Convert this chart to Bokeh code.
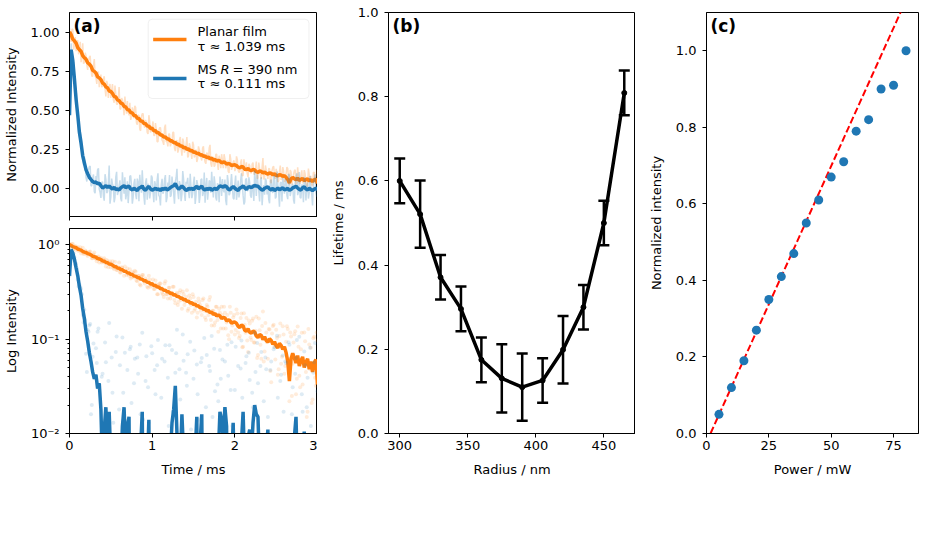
import numpy as np
from bokeh.plotting import figure
from bokeh.layouts import row, column
from bokeh.models import (Range1d, FixedTicker, PrintfTickFormatter, BoxAnnotation,
                          Label, Whisker, TeeHead, ColumnDataSource)
from bokeh.embed import file_html
from bokeh.resources import INLINE

# ---------------- data ----------------
# smoothed traces and raw samples on the main time grid (0.00 ... 3.00 ms)
time_ms = np.linspace(0.0, 3.0, 151)
# raw samples in between (0.01 ... 2.99 ms)
time_mid_ms = np.linspace(0.01, 2.99, 150)

planar_smooth = [
    1.005, 0.985, 0.958, 0.946, 0.932, 0.903, 0.889, 0.879, 0.852, 0.838,
    0.829, 0.806, 0.797, 0.784, 0.758, 0.751, 0.740, 0.716, 0.709, 0.698,
    0.676, 0.669, 0.651, 0.646, 0.625, 0.622, 0.610, 0.590, 0.587, 0.568,
    0.564, 0.548, 0.544, 0.526, 0.523, 0.506, 0.503, 0.487, 0.485, 0.468,
    0.466, 0.451, 0.449, 0.433, 0.432, 0.417, 0.416, 0.401, 0.400, 0.385,
    0.386, 0.371, 0.371, 0.357, 0.357, 0.343, 0.343, 0.330, 0.331, 0.318,
    0.318, 0.305, 0.306, 0.294, 0.295, 0.283, 0.284, 0.272, 0.273, 0.262,
    0.263, 0.252, 0.253, 0.242, 0.244, 0.233, 0.235, 0.224, 0.226, 0.215,
    0.217, 0.207, 0.209, 0.198, 0.202, 0.191, 0.194, 0.183, 0.187, 0.176,
    0.181, 0.176, 0.165, 0.170, 0.168, 0.156, 0.160, 0.158, 0.147, 0.151,
    0.152, 0.147, 0.137, 0.133, 0.141, 0.138, 0.124, 0.121, 0.129, 0.118,
    0.116, 0.122, 0.119, 0.108, 0.104, 0.112, 0.110, 0.099, 0.106, 0.097,
    0.093, 0.101, 0.097, 0.088, 0.094, 0.085, 0.081, 0.090, 0.086, 0.078,
    0.083, 0.072, 0.058, 0.036, 0.062, 0.071, 0.063, 0.056, 0.067, 0.052,
    0.059, 0.065, 0.050, 0.057, 0.062, 0.048, 0.058, 0.045, 0.056, 0.061,
    0.033]

planar_raw = [
    1.03, 0.94, 1.02, 0.92, 0.88, 0.95, 0.90, 0.81, 0.93, 0.81,
    0.85, 0.76, 0.84, 0.77, 0.72, 0.83, 0.71, 0.74, 0.65, 0.73,
    0.66, 0.72, 0.59, 0.67, 0.64, 0.58, 0.67, 0.55, 0.60, 0.54,
    0.65, 0.51, 0.57, 0.47, 0.53, 0.56, 0.47, 0.44, 0.52, 0.45,
    0.52, 0.41, 0.47, 0.37, 0.48, 0.41, 0.44, 0.36, 0.47, 0.36,
    0.39, 0.34, 0.42, 0.30, 0.37, 0.39, 0.31, 0.28, 0.41, 0.30,
    0.35, 0.27, 0.31, 0.36, 0.24, 0.31, 0.25, 0.33, 0.21, 0.30,
    0.25, 0.33, 0.21, 0.27, 0.19, 0.28, 0.21, 0.17, 0.27, 0.23,
    0.18, 0.27, 0.17, 0.23, 0.18, 0.28, 0.14, 0.20, 0.15, 0.22,
    0.12, 0.19, 0.22, 0.13, 0.19, 0.15, 0.11, 0.22, 0.12, 0.17,
    0.112, 0.206, 0.118, 0.108, 0.187, 0.083, 0.142, 0.168, 0.073, 0.147,
    0.098, 0.166, 0.092, 0.173, 0.068, 0.124, 0.062, 0.196, 0.074, 0.118,
    0.062, 0.127, 0.035, 0.138, 0.083, 0.126, 0.042, 0.108, 0.055, 0.137,
    0.043, 0.094, 0.128, 0.022, 0.107, 0.055, 0.113, 0.026, 0.136, 0.041,
    0.078, 0.033, 0.118, 0.045, 0.017, 0.088, 0.081, 0.023, 0.106, 0.032,
    0.097]

planar_raw_mid = [
    0.97, 1.02, 0.89, 0.97, 0.93, 0.86, 0.94, 0.85, 0.80, 0.87,
    0.79, 0.82, 0.85, 0.72, 0.79, 0.72, 0.67, 0.75, 0.71, 0.65,
    0.70, 0.64, 0.69, 0.58, 0.67, 0.63, 0.57, 0.66, 0.54, 0.58,
    0.51, 0.58, 0.53, 0.59, 0.48, 0.49, 0.55, 0.46, 0.50, 0.53,
    0.42, 0.47, 0.38, 0.46, 0.48, 0.39, 0.42, 0.35, 0.43, 0.37,
    0.43, 0.34, 0.38, 0.30, 0.39, 0.35, 0.30, 0.39, 0.30, 0.27,
    0.35, 0.29, 0.36, 0.26, 0.30, 0.23, 0.31, 0.26, 0.32, 0.23,
    0.28, 0.20, 0.29, 0.23, 0.30, 0.20, 0.25, 0.19, 0.25, 0.20,
    0.26, 0.20, 0.16, 0.22, 0.26, 0.16, 0.20, 0.14, 0.22, 0.16,
    0.21, 0.13, 0.18, 0.22, 0.13, 0.18, 0.10, 0.19, 0.14, 0.18,
    0.125, 0.187, 0.103, 0.168, 0.082, 0.188, 0.117, 0.097, 0.158, 0.104,
    0.157, 0.092, 0.123, 0.063, 0.166, 0.087, 0.138, 0.058, 0.148, 0.093,
    0.128, 0.046, 0.115, 0.142, 0.061, 0.103, 0.048, 0.147, 0.065, 0.112,
    0.052, 0.137, 0.062, 0.118, 0.025, 0.092, 0.121, 0.038, 0.083, 0.031,
    0.117, 0.052, 0.095, 0.015, 0.128, 0.048, 0.021, 0.102, 0.039, 0.118]

ms_smooth = [
    0.47, 0.89, 0.82, 0.70, 0.57, 0.47, 0.36, 0.29, 0.21, 0.165,
    0.12, 0.095, 0.072, 0.058, 0.045, 0.038, 0.042, 0.030, 0.034, 0.018,
    0.004, 0.011, 0.019, 0.007, 0.017, 0.005, -0.004, 0.009, -0.006, -0.002,
    -0.009, 0.004, 0.012, 0.019, 0.006, 0.012, 0.015, -0.003, -0.008, 0.002,
    -0.006, -0.012, 0.003, 0.007, 0.017, -0.004, -0.010, 0.004, 0.014, -0.002,
    -0.011, -0.005, 0.003, -0.008, -0.002, -0.013, 0.001, -0.006, 0.004, -0.009,
    -0.003, 0.006, 0.013, 0.018, 0.032, 0.010, -0.004, 0.005, 0.016, 0.006,
    -0.007, -0.012, 0.002, -0.005, 0.003, -0.008, 0.006, 0.015, -0.002, 0.008,
    0.016, -0.003, -0.010, 0.001, -0.006, 0.004, -0.011, -0.004, 0.002, -0.007,
    0.006, 0.017, 0.014, 0.009, 0.019, 0.012, -0.004, -0.009, 0.005, 0.013,
    0.002, -0.006, -0.012, 0.003, 0.008, 0.017, 0.004, -0.005, 0.009, 0.011,
    0.006, 0.013, 0.020, 0.016, 0.015, 0.004, -0.006, -0.010, 0.002, 0.007,
    0.011, -0.003, -0.008, 0.001, -0.012, -0.005, 0.003, -0.007, -0.002, 0.005,
    -0.009, -0.004, 0.002, -0.011, -0.006, 0.004, 0.009, 0.015, 0.003, -0.005,
    -0.010, 0.006, 0.0105, -0.003, -0.008, 0.002, -0.006, -0.013, -0.004, 0.003,
    -0.007]

ms_raw = [
    0.47, 0.93, 0.77, 0.73, 0.63, 0.43, 0.38, 0.34, 0.18, 0.205,
    0.07, 0.125, 0.14, 0.016, 0.065, -0.02, 0.08, 0.12, -0.005, -0.06,
    0.043, -0.078, 0.057, -0.021, 0.148, -0.052, 0.027, -0.088, 0.073, -0.041,
    0.018, -0.062, 0.104, -0.033, -0.069, 0.047, -0.012, 0.083, -0.097, 0.034,
    -0.038, 0.064, -0.081, 0.016, 0.117, -0.048, 0.036, -0.072, 0.013, -0.029,
    0.071, -0.087, 0.026, 0.053, -0.043, -0.108, 0.062, -0.018, 0.086, -0.058,
    0.012, -0.053, 0.077, -0.031, 0.044, 0.126, -0.068, 0.023, -0.037, 0.059,
    -0.079, 0.032, -0.024, 0.094, -0.061, 0.038, -0.098, 0.054, 0.014, -0.042,
    0.063, -0.027, -0.091, 0.068, -0.019, 0.046, 0.108, -0.057, 0.028, -0.076,
    0.022, 0.077, -0.048, -0.011, 0.058, -0.106, 0.041, -0.032, 0.093, -0.061,
    0.029, -0.072, 0.052, -0.017, 0.097, -0.044, -0.086, 0.066, -0.013, 0.037,
    -0.058, 0.019, 0.116, -0.047, 0.034, -0.083, 0.073, -0.022, -0.039, 0.048,
    0.015, -0.094, 0.058, -0.028, 0.082, -0.053, 0.024, -0.116, 0.042, 0.067,
    -0.033, 0.056, -0.068, 0.087, -0.016, 0.031, -0.097, 0.063, -0.042, 0.106,
    -0.061, 0.017, 0.074, -0.077, 0.039, -0.026, 0.012, -0.108, 0.057, -0.023,
    0.028]

ms_raw_mid = [
    0.73, 0.82, 0.81, 0.62, 0.56, 0.36, 0.36, 0.30, 0.15, 0.16,
    0.045, 0.12, 0.145, 0.02, 0.09, -0.03, 0.056, 0.13, -0.024, 0.04,
    -0.047, 0.092, -0.028, 0.036, -0.097, 0.064, 0.013, -0.058, 0.107, -0.019,
    0.053, -0.082, 0.027, 0.072, -0.038, -0.093, 0.078, 0.021, -0.054, 0.062,
    -0.068, 0.043, 0.088, -0.027, 0.014, -0.103, 0.066, 0.031, -0.063, 0.084,
    -0.018, 0.047, -0.076, 0.098, -0.052, 0.024, -0.033, 0.058, -0.087, 0.039,
    0.086, -0.042, 0.017, -0.097, 0.071, -0.023, 0.048, -0.081, 0.112, -0.029,
    0.044, 0.069, -0.062, 0.011, -0.034, 0.076, -0.047, 0.026, -0.092, 0.057,
    -0.048, 0.103, 0.019, -0.071, 0.052, -0.027, 0.015, 0.079, -0.058, 0.033,
    -0.088, 0.038, 0.061, -0.024, -0.077, 0.087, -0.043, 0.029, 0.012, -0.068,
    0.083, -0.031, -0.057, 0.049, 0.024, -0.102, 0.056, -0.014, 0.072, -0.046,
    0.027, -0.079, 0.045, 0.091, -0.018, 0.052, -0.107, 0.022, 0.064, -0.038,
    -0.071, 0.047, -0.013, 0.078, -0.063, 0.109, -0.027, 0.036, -0.082, 0.017,
    0.058, -0.044, 0.093, -0.048, 0.016, -0.072, 0.043, 0.098, -0.021, -0.057,
    0.026, -0.087, 0.053, 0.019, -0.064, 0.081, -0.032, 0.044, 0.091, -0.052]

radius_nm = [300, 315, 330, 345, 360, 375, 390, 405, 420, 435, 450, 465]
lifetime_ms = [0.600, 0.521, 0.371, 0.296, 0.175, 0.131, 0.110, 0.126, 0.199, 0.300, 0.500, 0.809]
lifetime_err = [0.053, 0.080, 0.053, 0.053, 0.053, 0.081, 0.080, 0.053, 0.080, 0.053, 0.053, 0.053]

power_mw = [5, 10, 15, 20, 25, 30, 35, 40, 45, 50, 55, 60, 65, 70, 75, 80]
norm_intensity = [0.05, 0.12, 0.19, 0.27, 0.35, 0.41, 0.47, 0.55, 0.61, 0.67,
                  0.71, 0.79, 0.82, 0.90, 0.91, 1.00]
fit_slope = 0.01444
fit_intercept = -0.0231

# ---------------- styling helpers ----------------
FONT = "DejaVu Sans"
FS = "13px"
ORANGE = "#ff7f0e"
BLUE = "#1f77b4"


def style(p):
    p.outline_line_color = "black"
    p.outline_line_width = 1
    p.outline_line_alpha = 1.0
    p.xgrid.visible = False
    p.ygrid.visible = False
    p.background_fill_color = "white"
    p.border_fill_color = "white"
    for ax in p.axis:
        ax.axis_line_color = "black"
        ax.major_tick_line_color = "black"
        ax.major_tick_out = 4
        ax.major_tick_in = 0
        ax.minor_tick_line_color = None
        ax.major_label_text_font = FONT
        ax.major_label_text_font_size = FS
        ax.major_label_text_color = "black"
        ax.axis_label_text_font = FONT
        ax.axis_label_text_font_size = FS
        ax.axis_label_text_font_style = "normal"
        ax.axis_label_text_color = "black"
    for ax in p.yaxis:
        ax.major_label_standoff = 6
        ax.axis_label_standoff = 9
    for ax in p.xaxis:
        ax.major_label_standoff = 3
        ax.axis_label_standoff = 9


def panel_label(p, text, x, y):
    p.add_layout(Label(x=x, y=y, x_offset=4, y_offset=-3, text=text,
                       text_font=FONT, text_font_size="17px", text_font_style="bold",
                       text_baseline="top", text_align="left", text_color="black"))


t = np.asarray(time_ms)
ps = np.asarray(planar_smooth)
ms = np.asarray(ms_smooth)

# merge both raw sample sets into one time-ordered series
t_raw = np.concatenate([t, np.asarray(time_mid_ms)])
order = np.argsort(t_raw)
t_raw = t_raw[order]
pr = np.concatenate([np.asarray(planar_raw), np.asarray(planar_raw_mid)])[order]
mr = np.concatenate([np.asarray(ms_raw), np.asarray(ms_raw_mid)])[order]

xr_a = Range1d(0, 3)

# ---------------- panel (a) top ----------------
pa1 = figure(frame_width=248, frame_height=204, x_range=xr_a, y_range=Range1d(-0.179, 1.128),
             min_border_left=68, min_border_right=0, min_border_top=12, min_border_bottom=6,
             output_backend="svg", toolbar_location=None)
pa1.line(t_raw, pr, line_color=ORANGE, line_alpha=0.25, line_width=1.5)
pa1.line(t, ps, line_color=ORANGE, line_width=3.5)
pa1.line(t_raw, mr, line_color=BLUE, line_alpha=0.25, line_width=1.5)
pa1.line(t, ms, line_color=BLUE, line_width=3.5)
style(pa1)
pa1.xaxis.ticker = FixedTicker(ticks=[0, 1, 2, 3])
pa1.xaxis.major_label_text_font_size = "0px"
pa1.xaxis.major_label_text_color = None
pa1.xaxis.major_label_standoff = 0
pa1.yaxis.ticker = FixedTicker(ticks=[0.0, 0.25, 0.5, 0.75, 1.0])
pa1.yaxis.formatter = PrintfTickFormatter(format="%.2f")
pa1.yaxis.axis_label = "Normalized Intensity"
panel_label(pa1, "(a)", 0, 1.128)

# legend (drawn as annotations)
pa1.add_layout(BoxAnnotation(left=0.952, right=2.897, top=1.085, bottom=0.577,
                             fill_color="white", fill_alpha=0.8, line_color="#cccccc",
                             line_width=1, border_radius=4))
pa1.add_layout(BoxAnnotation(left=1.012, right=1.415, top=0.966, bottom=0.944,
                             fill_color=ORANGE, fill_alpha=1, line_color=None))
pa1.add_layout(BoxAnnotation(left=1.012, right=1.415, top=0.716, bottom=0.694,
                             fill_color=BLUE, fill_alpha=1, line_color=None))
leg_kw = dict(text_font=FONT, text_font_size=FS, text_baseline="middle",
              text_align="left", text_color="black")
pa1.add_layout(Label(x=1.548, y=1.006, text="Planar film", **leg_kw))
pa1.add_layout(Label(x=1.548, y=0.913, text="τ ≈ 1.039 ms", **leg_kw))
pa1.add_layout(Label(x=1.548, y=0.764, text="MS", **leg_kw))
pa1.add_layout(Label(x=1.548, y=0.764, x_offset=23, text="R", text_font_style="italic", **leg_kw))
pa1.add_layout(Label(x=1.548, y=0.764, x_offset=35, text="= 390 nm", **leg_kw))
pa1.add_layout(Label(x=1.548, y=0.676, text="τ ≈ 0.111 ms", **leg_kw))

# ---------------- panel (a) bottom (log) ----------------
pa2 = figure(frame_width=248, frame_height=205, x_range=xr_a, y_range=Range1d(0.01, 1.49),
             y_axis_type="log",
             min_border_left=68, min_border_right=0, min_border_top=6, min_border_bottom=50,
             output_backend="svg", toolbar_location=None)
pos_p = pr > 0
pos_m = mr > 0
pa2.scatter(t_raw[pos_p], pr[pos_p], size=4, fill_color=ORANGE, fill_alpha=0.15, line_color=None)
pa2.line(t, np.clip(ps, 1e-4, None), line_color=ORANGE, line_width=3.5)
pa2.scatter(t_raw[pos_m], mr[pos_m], size=4, fill_color=BLUE, fill_alpha=0.15, line_color=None)
pa2.line(t, np.clip(ms, 1e-4, None), line_color=BLUE, line_width=3.5)
style(pa2)
pa2.xaxis.ticker = FixedTicker(ticks=[0, 1, 2, 3])
pa2.xaxis.axis_label = "Time / ms"
pa2.yaxis.ticker = FixedTicker(ticks=[0.01, 0.1, 1.0],
                               minor_ticks=[0.02, 0.03, 0.04, 0.05, 0.06, 0.07, 0.08, 0.09,
                                            0.2, 0.3, 0.4, 0.5, 0.6, 0.7, 0.8, 0.9])
pa2.yaxis.minor_tick_line_color = "black"
pa2.yaxis.minor_tick_out = 2
pa2.yaxis.minor_tick_in = 0
pa2.yaxis.major_label_overrides = {1.0: "10⁰", 0.1: "10⁻¹", 0.01: "10⁻²"}
pa2.yaxis.axis_label = "Log Intensity"

# ---------------- panel (b) ----------------
src_b = ColumnDataSource(dict(
    radius=radius_nm, life=lifetime_ms,
    upper=[v + e for v, e in zip(lifetime_ms, lifetime_err)],
    lower=[v - e for v, e in zip(lifetime_ms, lifetime_err)]))
pb = figure(frame_width=247, frame_height=421, x_range=Range1d(291.75, 473.25),
            y_range=Range1d(0.0, 1.0),
            min_border_left=71, min_border_right=0, min_border_top=12, min_border_bottom=50,
            output_backend="svg", toolbar_location=None)
pb.line("radius", "life", source=src_b, line_color="black", line_width=3.5)
pb.add_layout(Whisker(source=src_b, base="radius", upper="upper", lower="lower",
                      line_color="black", line_width=2.5,
                      upper_head=TeeHead(size=11, line_width=2.5, line_color="black"),
                      lower_head=TeeHead(size=11, line_width=2.5, line_color="black")))
pb.scatter("radius", "life", source=src_b, size=5, fill_color="black", line_color="black")
style(pb)
pb.xaxis.ticker = FixedTicker(ticks=[300, 350, 400, 450])
pb.yaxis.ticker = FixedTicker(ticks=[0.0, 0.2, 0.4, 0.6, 0.8, 1.0])
pb.yaxis.formatter = PrintfTickFormatter(format="%.1f")
pb.xaxis.axis_label = "Radius / nm"
pb.yaxis.axis_label = "Lifetime / ms"
panel_label(pb, "(b)", 291.75, 1.0)

# ---------------- panel (c) ----------------
pc = figure(frame_width=212, frame_height=421, x_range=Range1d(0, 85), y_range=Range1d(0.0, 1.1),
            min_border_left=71, min_border_right=8, min_border_top=12, min_border_bottom=50,
            output_backend="svg", toolbar_location=None)
fit_x = np.array([0.0, 85.0])
pc.line(fit_x, fit_slope * fit_x + fit_intercept, line_color="red", line_width=2,
        line_dash="7 3")
pc.scatter(power_mw, norm_intensity, size=9, fill_color=BLUE, line_color=None)
style(pc)
pc.xaxis.ticker = FixedTicker(ticks=[0, 25, 50, 75])
pc.yaxis.ticker = FixedTicker(ticks=[0.0, 0.2, 0.4, 0.6, 0.8, 1.0])
pc.yaxis.formatter = PrintfTickFormatter(format="%.1f")
pc.xaxis.axis_label = "Power / mW"
pc.yaxis.axis_label = "Normalized intensity"
panel_label(pc, "(c)", 0, 1.1)

layout = row(column(pa1, pa2, spacing=0), pb, pc, spacing=0)

open("out.html", "w").write(file_html(layout, INLINE, title="Lifetime chart"))
